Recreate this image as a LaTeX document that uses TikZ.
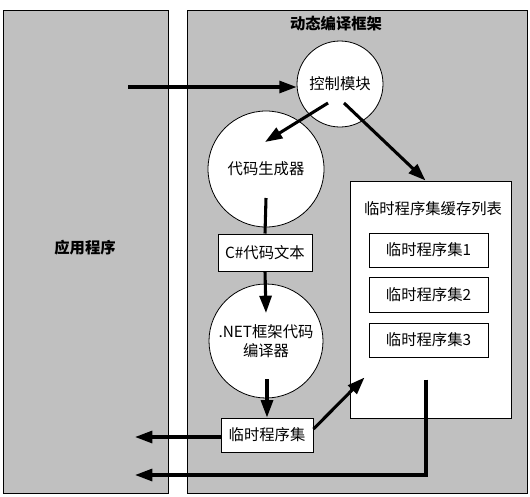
\documentclass[tikz,border=0pt]{standalone}
\usepackage{fontspec}
\setmainfont{Noto Sans CJK SC}
\usetikzlibrary{arrows.meta,calc}
\definecolor{panelgray}{HTML}{C0C0C0}
\tikzset{
  panel/.style={draw=black,line width=0.75pt,fill=panelgray},
  circ/.style={circle,draw=black,line width=0.6pt,fill=white,inner sep=0pt,align=center,font=\fontsize{11.5pt}{14pt}\selectfont},
  box/.style={rectangle,draw=black,line width=0.75pt,fill=white,inner sep=0pt,font=\fontsize{11.5pt}{14pt}\selectfont},
  flow/.style={line width=2.3pt,-{Triangle[length=13pt,width=9pt]}},
  plain/.style={line width=2.3pt},
  lbl/.style={font=\fontsize{11.5pt}{14pt}\selectfont\bfseries}
}
\begin{document}
\begin{tikzpicture}[x=0.75pt,y=-0.75pt]
\useasboundingbox (0,0) rectangle (530,496);
\fill[white] (0,0) rectangle (530,496);
% panels
\draw[panel] (3,10) rectangle (168,493);
\draw[panel] (187,10) rectangle (527,493);
\node[lbl] (apptitle) at (85,248) {应用程序};
\node[lbl] (fwtitle) at (336,24) {动态编译框架};
% nodes
\node[circ,minimum size=86*0.75pt] (ctrl) at (340,84) {控制模块};
\node[circ,minimum size=116*0.75pt] (gen) at (266,169) {代码生成器};
\node[box,minimum width=94*0.75pt,minimum height=37*0.75pt] (cs) at (265,252.5) {C\#代码文本};
\node[circ,minimum size=114*0.75pt] (net) at (266,341) {.NET框架代码\\编译器};
\node[box,minimum width=92*0.75pt,minimum height=34*0.75pt] (tmp) at (267,435) {临时程序集};
\node[box,minimum width=161*0.75pt,minimum height=237*0.75pt] (cache) at (430.5,299.5) {};
\node[font=\fontsize{11.5pt}{14pt}\selectfont] (cachetitle) at (433,209) {临时程序集缓存列表};
\node[box,minimum width=119*0.75pt,minimum height=34*0.75pt] (a1) at (428.5,250) {临时程序集1};
\node[box,minimum width=119*0.75pt,minimum height=35*0.75pt] (a2) at (428.5,294.5) {临时程序集2};
\node[box,minimum width=119*0.75pt,minimum height=34*0.75pt] (a3) at (428.5,340) {临时程序集3};
% free ends
\coordinate (appin) at (128,87);
\coordinate (appout) at (135,437);
\coordinate (appret) at (135,475);
% connectors
\draw[flow] (appin) -- (appin -| ctrl.west);
\draw[flow] ($(ctrl.center)+(-12,19)$) -- ($(gen.center)+(-1,-27)$);
\draw[flow] ($(ctrl.center)+(4,19)$) -- ($(cache.north)+(-5,0)$);
\draw[plain] ($(gen.center)+(0,29)$) -- (cs.north);
\draw[flow] (cs.south) -- ($(net.center)+(0,-28)$);
\draw[flow] ($(net.center)+(1,38)$) -- (tmp.north);
\draw[flow] (tmp.west |- appout) -- (appout);
\draw[flow] ($(tmp.east)+(0,-6)$) -- ($(cache.south west)+(15,-41)$);
\draw[flow] ($(cache.south)+(-4.5,-39)$) |- (appret);
\end{tikzpicture}
\end{document}
